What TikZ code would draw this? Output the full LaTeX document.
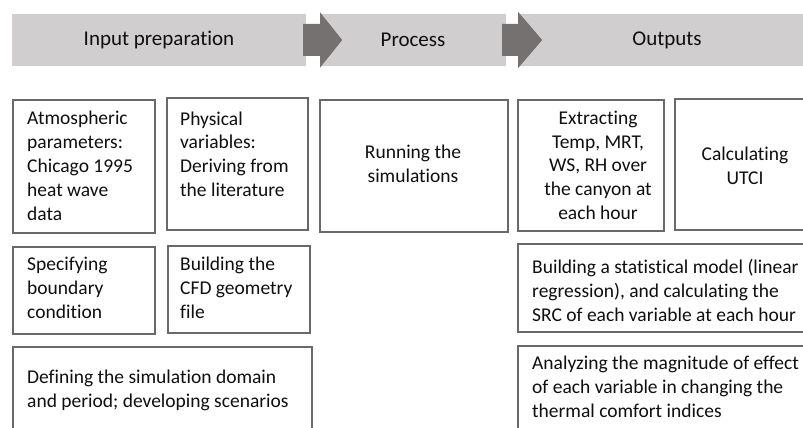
\documentclass[tikz,border=0pt]{standalone}
\usepackage{fontspec}
\setmainfont{Carlito}[Ligatures=NoCommon]
\usetikzlibrary{calc}
\definecolor{bargray}{RGB}{208,206,206}
\definecolor{chevgray}{RGB}{118,113,113}
\definecolor{linegray}{RGB}{105,105,105}
\definecolor{inkgray}{RGB}{15,15,15}
\tikzset{
	bar/.style={fill=bargray, minimum height=52pt, inner sep=0pt, text=inkgray, font=\fontsize{21}{25}\selectfont},
	chev/.style={fill=chevgray},
	cell/.style={draw=linegray, line width=1.6pt, anchor=north west, inner sep=0pt},
	% text nodes sit on the baseline of their last line
	txt/.style={anchor=base west, align=left, inner sep=0pt, text=inkgray, font=\fontsize{19.5}{23.8}\selectfont},
	ctxt/.style={txt, anchor=base, align=center}
}
\begin{document}
\begin{tikzpicture}[x=1pt, y=-1pt]
	\clip (0,0) rectangle (803,428);
	\fill[white] (0,0) rectangle (803,428);
	% header bars
	\node[bar, minimum width=294pt] (inbar) at (159,40) {Input preparation};
	\node[bar, minimum width=186pt] (procbar) at (413,40) {Process};
	\node[bar, minimum width=298pt] (outbar) at (667,40) {Outputs};
	\fill[chev] ($(inbar.east)+(-3,-16)$) -- ++(17,0) -- ++(0,-11.5) -- ++(22,27.5) -- ++(-22,27.5) -- ++(0,-11.5) -- ++(-17,0) -- cycle;
	\fill[chev] ($(procbar.east)+(-4,-16)$) -- ++(16,0) -- ++(0,-12) -- ++(24,28) -- ++(-24,28) -- ++(0,-12) -- ++(-16,0) -- cycle;
	% first row
	\node[cell, minimum width=142pt, minimum height=133pt] (atm) at (12,99) {};
	\node[cell, minimum width=141pt, minimum height=132pt] (phys) at (166,97) {};
	\node[cell, minimum width=188pt, minimum height=132pt] (run) at (319,99) {};
	\node[cell, minimum width=146pt, minimum height=131pt] (extr) at (517,99) {};
	\node[cell, minimum width=142pt, minimum height=131pt] (utci) at (674,98) {};
	\node[txt] (atmtxt) at (27,220) {Atmospheric\\parameters:\\Chicago 1995\\heat wave\\data};
	\node[txt] (phystxt) at (180,196.5) {Physical\\variables:\\Deriving from\\the literature};
	\node[ctxt] (runtxt) at (413,182.5) {Running the\\simulations};
	\node[ctxt] (extrtxt) at (598,219.5) {Extracting\\Temp, MRT,\\WS, RH over\\the canyon at\\each hour};
	\node[ctxt] (utcitxt) at (745,184.5) {Calculating\\UTCI};
	% second row
	\node[cell, minimum width=142pt, minimum height=87pt] (bound) at (12,246) {};
	\node[cell, minimum width=142pt, minimum height=87pt] (geom) at (167,245) {};
	\node[cell, minimum width=300pt, minimum height=88pt] (model) at (517,243) {};
	\node[txt] (boundtxt) at (27,318.5) {Specifying\\boundary\\condition};
	\node[txt] (geomtxt) at (180,318.5) {Building the\\CFD geometry\\file};
	\node[txt] (modeltxt) at (532,321.5) {Building a statistical model (linear\\regression), and calculating the\\SRC of each variable at each hour};
	% third row
	\node[cell, minimum width=299pt, minimum height=100pt] (domain) at (12,346) {};
	\node[cell, minimum width=300pt, minimum height=100pt] (effect) at (517,345) {};
	\node[txt] (domaintxt) at (27,407.5) {Defining the simulation domain\\and period; developing scenarios};
	\node[txt] (effecttxt) at (532,417.5) {Analyzing the magnitude of effect\\of each variable in changing the\\thermal comfort indices};
\end{tikzpicture}
\end{document}
